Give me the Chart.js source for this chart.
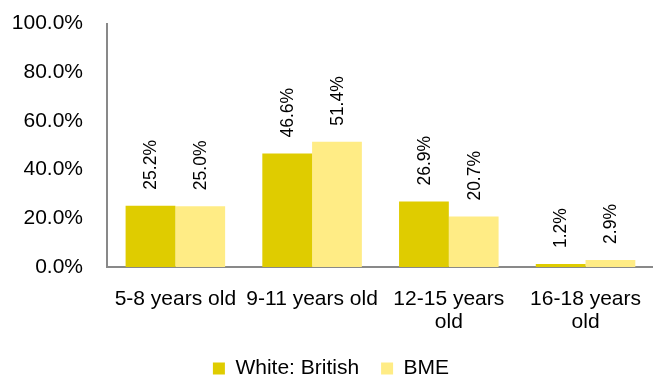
<!DOCTYPE html>
<html>
<head>
<meta charset="utf-8">
<script src="https://cdn.jsdelivr.net/npm/chart.js@4"></script>
<style>
  html, body { margin: 0; padding: 0; background: #fff; overflow: hidden; }
  #wrap { width: 662px; height: 378px; }
</style>
</head>
<body>
<div id="wrap"><canvas id="chart"></canvas></div>
<script>
const categorias = [['5-8 years old'], ['9-11 years old'], ['12-15 years', 'old'], ['16-18 years', 'old']];
const whiteBritish = [25.2, 46.6, 26.9, 1.2];
const bme = [25.0, 51.4, 20.7, 2.9];
const ticksY = [0, 20, 40, 60, 80, 100];

const FUENTE = '"Liberation Sans", Arial, sans-serif';

// etiquetas verticales encima de cada barra
const etiquetasBarras = {
    id: 'etiquetasBarras',
    afterDatasetsDraw(chart) {
        const ctx = chart.ctx;
        ctx.save();
        ctx.fillStyle = '#000';
        ctx.font = 'normal 17.5px ' + FUENTE;
        ctx.textAlign = 'left';
        ctx.textBaseline = 'middle';
        chart.data.datasets.forEach((ds, i) => {
            chart.getDatasetMeta(i).data.forEach((bar, j) => {
                ctx.save();
                ctx.translate(bar.x + 1, bar.y - 16);
                ctx.rotate(-Math.PI / 2);
                ctx.fillText(ds.data[j].toFixed(1) + '%', 0, 0);
                ctx.restore();
            });
        });
        ctx.restore();
    }
};

// alto fijo de la leyenda para que quede pegada abajo
const leyendaFija = {
    id: 'leyendaFija',
    beforeLayout(chart) {
        const lg = chart.legend;
        if (lg && !lg._parcheado) {
            const fitOrig = lg.fit;
            lg.fit = function () { fitOrig.call(this); this.height = 42; };
            lg._parcheado = true;
        }
    }
};

const ctx = document.getElementById('chart').getContext('2d');
new Chart(ctx, {
    type: 'bar',
    data: {
        labels: categorias,
        datasets: [
            { label: 'White: British', data: whiteBritish, backgroundColor: '#DFCC00' },
            { label: 'BME', data: bme, backgroundColor: '#FFEC85' }
        ]
    },
    options: {
        responsive: true,
        maintainAspectRatio: false,
        animation: false,
        layout: { padding: { top: 23.5, left: 0, right: 0, bottom: 0 } },
        datasets: { bar: { categoryPercentage: 0.728, barPercentage: 1.0 } },
        plugins: {
            legend: {
                position: 'bottom',
                labels: {
                    boxWidth: 12, boxHeight: 12, padding: 22,
                    color: '#000',
                    font: { family: FUENTE, size: 21 }
                }
            },
            tooltip: { enabled: false }
        },
        scales: {
            x: {
                afterFit: (scale) => { scale.height = 69; },
                grid: { display: false, drawTicks: false },
                border: { display: true, color: '#898989', width: 2 },
                ticks: {
                    color: '#000', padding: 21, maxRotation: 0, autoSkip: false,
                    font: { family: FUENTE, size: 21, lineHeight: 1.1 }
                }
            },
            y: {
                min: 0, max: 100,
                afterFit: (scale) => {
                    scale.width = 107;
                    scale.paddingTop = 0;
                    scale.paddingBottom = 0;
                },
                afterBuildTicks: (scale) => { scale.ticks = ticksY.map(v => ({ value: v })); },
                grid: { display: false, drawTicks: false },
                border: { display: true, color: '#898989', width: 2 },
                ticks: {
                    color: '#000', padding: 24,
                    font: { family: FUENTE, size: 21 },
                    callback: (v) => v.toFixed(1) + '%'
                }
            }
        }
    },
    plugins: [etiquetasBarras, leyendaFija]
});
</script>
</body>
</html>
